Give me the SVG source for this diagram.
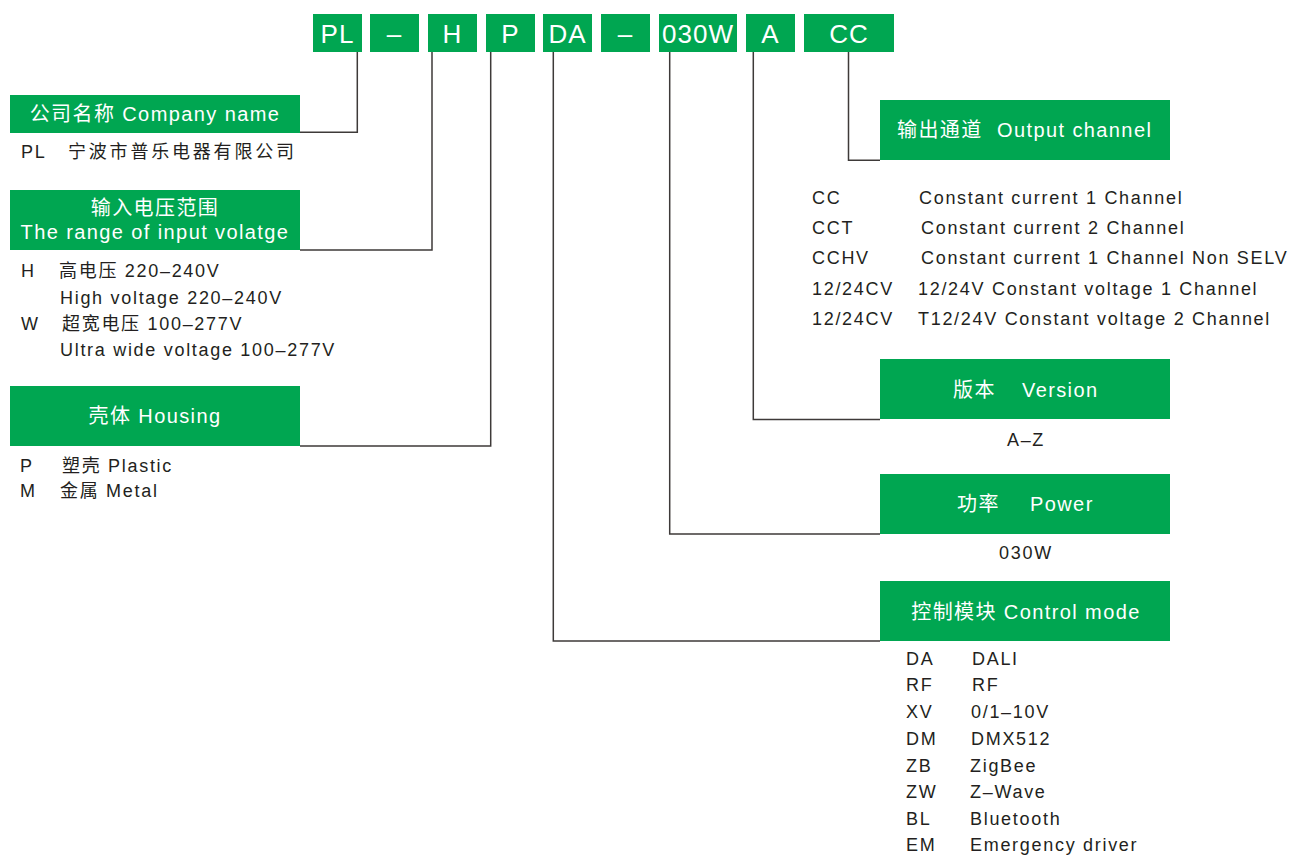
<svg xmlns="http://www.w3.org/2000/svg" width="1291" height="855" viewBox="0 0 1291 855">
<style>
.box{fill:#00a651}
.code{font-family:"Liberation Sans","Noto Sans CJK SC",sans-serif;font-size:26px;fill:#fff;text-anchor:middle;letter-spacing:1px}
.title{font-family:"Liberation Sans","Noto Sans CJK SC",sans-serif;font-size:20px;fill:#fff;text-anchor:middle;letter-spacing:1.4px}
.tl{font-family:"Liberation Sans","Noto Sans CJK SC",sans-serif;font-size:20px;fill:#fff;letter-spacing:1.4px}
.item{font-family:"Liberation Sans","Noto Sans CJK SC",sans-serif;font-size:18px;fill:#231f20;letter-spacing:1.7px}
.mid{text-anchor:middle}
.conn{fill:none;stroke:#3e3a39;stroke-width:1.5}
</style>
<rect width="1291" height="855" fill="#fff"/>

<g id="code-PL"><rect class="box" x="313" y="14" width="49" height="38"/><text class="code" x="337.5" y="42.5">PL</text></g>
<g id="code-dash1"><rect class="box" x="370" y="14" width="49" height="38"/><text class="code" x="394.5" y="42.5">–</text></g>
<g id="code-H"><rect class="box" x="428" y="14" width="49" height="38"/><text class="code" x="452.5" y="42.5">H</text></g>
<g id="code-P"><rect class="box" x="486" y="14" width="49" height="38"/><text class="code" x="510.5" y="42.5">P</text></g>
<g id="code-DA"><rect class="box" x="543" y="14" width="49" height="38"/><text class="code" x="567.5" y="42.5">DA</text></g>
<g id="code-dash2"><rect class="box" x="601" y="14" width="49" height="38"/><text class="code" x="625.5" y="42.5">–</text></g>
<g id="code-030W"><rect class="box" x="659" y="14" width="78" height="38"/><text class="code" x="698" y="42.5">030W</text></g>
<g id="code-A"><rect class="box" x="746" y="14" width="49" height="38"/><text class="code" x="770.5" y="42.5">A</text></g>
<g id="code-CC"><rect class="box" x="804" y="14" width="90" height="38"/><text class="code" x="849" y="42.5">CC</text></g>

<g id="connectors">
<path class="conn" d="M357.3,52 V132.3 H300"/>
<path class="conn" d="M432,52 V250 H300"/>
<path class="conn" d="M490.7,52 V446 H300"/>
<path class="conn" d="M553.3,52 V641 H880"/>
<path class="conn" d="M669.7,52 V534 H880"/>
<path class="conn" d="M753.3,52 V419.5 H880"/>
<path class="conn" d="M848.5,52 V160.3 H880"/>
</g>

<g id="company">
<rect class="box" x="10" y="95" width="290" height="38"/>
<text class="title" x="155" y="121">公司名称 Company name</text>
<text class="item" x="21" y="158">PL</text>
<text class="item" x="68" y="158" style="letter-spacing:2.8px">宁波市普乐电器有限公司</text>
</g>

<g id="input-voltage">
<rect class="box" x="10" y="190" width="290" height="60"/>
<text class="title" x="155" y="215">输入电压范围</text>
<text class="title" x="155" y="239">The range of input volatge</text>
<text class="item" x="21" y="277">H</text>
<text class="item" x="59" y="277">高电压 220–240V</text>
<text class="item" x="60" y="304">High voltage 220–240V</text>
<text class="item" x="21" y="330">W</text>
<text class="item" x="62" y="330">超宽电压 100–277V</text>
<text class="item" x="60" y="356">Ultra wide voltage 100–277V</text>
</g>

<g id="housing">
<rect class="box" x="10" y="386" width="290" height="60"/>
<text class="title" x="155" y="423">壳体 Housing</text>
<text class="item" x="20" y="472">P</text>
<text class="item" x="62" y="472">塑壳 Plastic</text>
<text class="item" x="20" y="497">M</text>
<text class="item" x="60" y="497">金属 Metal</text>
</g>

<g id="output-channel">
<rect class="box" x="880" y="100" width="290" height="60"/>
<text class="tl" x="897" y="137">输出通道</text>
<text class="tl" x="997" y="137">Output channel</text>
<text class="item" x="812" y="204">CC</text>
<text class="item" x="919" y="204">Constant current 1 Channel</text>
<text class="item" x="812" y="234">CCT</text>
<text class="item" x="921" y="234">Constant current 2 Channel</text>
<text class="item" x="812" y="264">CCHV</text>
<text class="item" x="921" y="264">Constant current 1 Channel Non SELV</text>
<text class="item" x="812" y="295">12/24CV</text>
<text class="item" x="918" y="295">12/24V Constant voltage 1 Channel</text>
<text class="item" x="812" y="325">12/24CV</text>
<text class="item" x="918" y="325">T12/24V Constant voltage 2 Channel</text>
</g>

<g id="version">
<rect class="box" x="880" y="359" width="290" height="60"/>
<text class="tl" x="953" y="397">版本</text>
<text class="tl" x="1022" y="397">Version</text>
<text class="item mid" x="1026" y="446">A–Z</text>
</g>

<g id="power">
<rect class="box" x="880" y="474" width="290" height="60"/>
<text class="tl" x="957" y="511">功率</text>
<text class="tl" x="1030" y="511">Power</text>
<text class="item mid" x="1026" y="559">030W</text>
</g>

<g id="control-mode">
<rect class="box" x="880" y="581" width="290" height="60"/>
<text class="title" x="1026" y="619">控制模块 Control mode</text>
<text class="item" x="906" y="665">DA</text><text class="item" x="972" y="665">DALI</text>
<text class="item" x="906" y="691">RF</text><text class="item" x="972" y="691">RF</text>
<text class="item" x="906" y="718">XV</text><text class="item" x="971" y="718">0/1–10V</text>
<text class="item" x="906" y="745">DM</text><text class="item" x="971" y="745">DMX512</text>
<text class="item" x="906" y="772">ZB</text><text class="item" x="970" y="772">ZigBee</text>
<text class="item" x="906" y="798">ZW</text><text class="item" x="970" y="798">Z–Wave</text>
<text class="item" x="906" y="825">BL</text><text class="item" x="970" y="825">Bluetooth</text>
<text class="item" x="906" y="851">EM</text><text class="item" x="970" y="851">Emergency driver</text>
</g>
</svg>
